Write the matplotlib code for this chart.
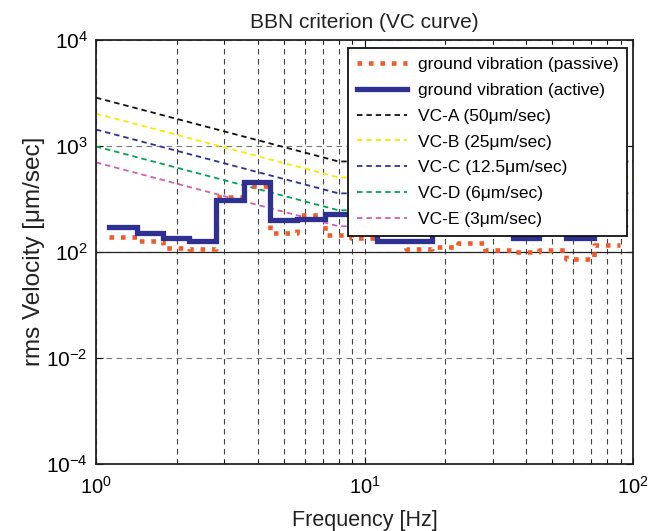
import matplotlib
matplotlib.use("Agg")
import matplotlib.pyplot as plt
import numpy as np

plt.rcParams['font.family'] = ['Liberation Sans', 'DejaVu Sans']
plt.rcParams['mathtext.fontset'] = 'custom'
plt.rcParams['mathtext.rm'] = 'Liberation Sans'
plt.rcParams['mathtext.it'] = 'Liberation Sans:italic'
plt.rcParams['mathtext.bf'] = 'Liberation Sans:bold'

# ---------------- data ----------------
band_centers = [1.25, 1.6, 2, 2.5, 3.15, 4, 5, 6.3, 8, 10, 12.5, 16, 20, 25,
                31.5, 40, 50, 63, 80]
passive = [1.90, 1.58, 1.18, 1.11, 10.8, 17.2, 2.23, 4.88, 2.05, 1.80, 1.58,
           1.11, 1.23, 1.47, 1.07, 0.99, 1.07, 0.72, 1.33]
active = [2.94, 2.20, 1.82, 1.58, 9.37, 20.7, 3.93, 4.10, 5.10, 2.78, 1.61,
          1.61, 2.6, 3.0, 2.5, 1.76, 2.6, 1.76, 2.6]

vc_freq = [1, 8, 100]
vc_a = [800, 50, 50]
vc_b = [400, 25, 25]
vc_c = [200, 12.5, 12.5]
vc_d = [96, 6, 6]
vc_e = [48, 3, 3]

vc_labels = ['VC-A (50\u03bcm/sec)', 'VC-B (25\u03bcm/sec)',
             'VC-C (12.5\u03bcm/sec)', 'VC-D (6\u03bcm/sec)',
             'VC-E (3\u03bcm/sec)']
vc_colors = ['#111111', '#F5EC00', '#2E3192', '#00A651', '#D160AC']

ytick_vals = [1e4, 1e2, 1e0, 1e-2, 1e-4]
ytick_labels = [r'$10^4$', r'$10^3$', r'$10^2$', r'$10^{-2}$', r'$10^{-4}$']
xtick_vals = [1, 10, 100]
xtick_labels = [r'$10^0$', r'$10^1$', r'$10^2$']

# ---------------- figure ----------------
fig = plt.figure(figsize=(6.51, 5.31), dpi=100)
ax = fig.add_axes([0.1475, 0.1271, 0.8249, 0.7985])
ax.set_xscale('log')
ax.set_yscale('log')
ax.set_xlim(1, 100)
ax.set_ylim(1e-4, 1e4)

# grid
ax.set_axisbelow(True)
ax.grid(True, axis='x', which='both', linestyle=(0, (5, 4)), color='#444444', lw=0.8)
ax.grid(True, axis='y', which='major', linestyle=(0, (5, 4)), color='#777777', lw=0.8)
ax.axhline(1.0, color='#222222', lw=0.9, zorder=1.5)

# step edges (one-third octave band edges)
centers = np.array(band_centers)
edges = np.concatenate([centers * 2 ** (-1 / 6), [centers[-1] * 2 ** (1 / 6)]])

vc_series = [vc_a, vc_b, vc_c, vc_d, vc_e]

h_pass, = ax.plot(edges, list(passive) + [passive[-1]], drawstyle='steps-post',
                  color='#F15A29', lw=3.3, linestyle=(0, (1, 1.5)),
                  dash_capstyle='butt', label='ground vibration (passive)', zorder=3)
h_act, = ax.plot(edges, list(active) + [active[-1]], drawstyle='steps-post',
                 color='#2E3192', lw=3.8, solid_joinstyle='miter',
                 label='ground vibration (active)', zorder=4)
for vals, lab, col in zip(vc_series, vc_labels, vc_colors):
    ax.plot(vc_freq, vals, color=col, lw=1.3, linestyle=(0, (3, 2.2)),
            label=lab, zorder=2.5)

ax.set_yticks(ytick_vals)
ax.set_yticklabels(ytick_labels)
ax.yaxis.set_minor_locator(matplotlib.ticker.NullLocator())
ax.set_xticks(xtick_vals)
ax.set_xticklabels(xtick_labels)
ax.tick_params(axis='both', which='both', direction='in', top=True, right=True)
ax.tick_params(axis='both', which='major', length=5, labelsize=15)
ax.tick_params(axis='y', which='major', pad=6)
ax.tick_params(axis='x', which='major', labelsize=14.5, pad=9)
ax.tick_params(axis='x', which='minor', length=3)

for sp in ax.spines.values():
    sp.set_linewidth(1.3)
    sp.set_color('#222222')

ax.set_title('BBN criterion (VC curve)', fontsize=15, color='#222222', pad=8)
ax.set_xlabel('Frequency [Hz]', fontsize=15.5, color='#222222', labelpad=9)
ax.set_ylabel('rms Velocity [\u03bcm/sec]', fontsize=17.5, color='#222222', labelpad=1)

leg = ax.legend(loc='upper right', bbox_to_anchor=(0.989, 0.980), borderaxespad=0,
                fontsize=12.5, fancybox=False, framealpha=1, edgecolor='#111111',
                handlelength=2.9, handletextpad=0.6, labelspacing=0.62,
                borderpad=0.5)
leg.get_frame().set_linewidth(1.3)
leg.set_zorder(10)

fig.savefig('out.png', dpi=100)
